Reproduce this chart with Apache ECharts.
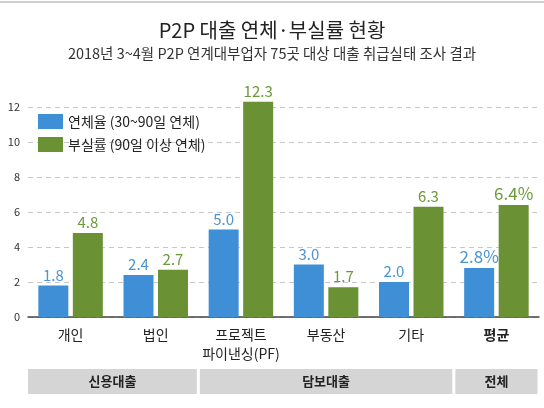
<!DOCTYPE html>
<html><head><meta charset="utf-8">
<script src="https://cdn.jsdelivr.net/npm/echarts@6/dist/echarts.min.js"></script>
<style>html,body{margin:0;padding:0;background:#fff}#c{width:544px;height:408px}</style>
</head><body><div id="c"></div>
<script>
const titleText = 'P2P 대출 연체·부실률 현황';
const subtitleText = '2018년 3~4월 P2P 연계대부업자 75곳 대상 대출 취급실태 조사 결과';
const categories = ['개인', '법인', '프로젝트\n파이낸싱(PF)', '부동산', '기타', '평균'];
const seriesNames = ['연체율 (30~90일 연체)', '부실률 (90일 이상 연체)'];
const delinquency = [1.8, 2.4, 5.0, 3.0, 2.0, 2.8];
const badLoan = [4.8, 2.7, 12.3, 1.7, 6.3, 6.4];
const yTicks = [0, 2, 4, 6, 8, 10, 12];
const groups = [
  { name: '신용대출', from: 0, to: 1 },
  { name: '담보대출', from: 2, to: 4 },
  { name: '전체', from: 5, to: 5 }
];
const totalIndex = 5;

const FONT = '"Noto Sans CJK KR", "Noto Sans", sans-serif';
const BLUE = '#3f8fd6', GREEN = '#6a9134';
const BLUE_T = '#4a94d2', GREEN_T = '#6b9a3a';

function makeData(vals, color) {
  return vals.map((v, i) => {
    const isTotal = i === totalIndex;
    return {
      value: v,
      label: {
        formatter: v.toFixed(1) + (isTotal ? '%' : ''),
        fontSize: isTotal ? 17 : 15,
        color: color
      }
    };
  });
}

const chart = echarts.init(document.getElementById('c'), null, { renderer: 'canvas' });
const option = {
  animation: false,
  textStyle: { fontFamily: FONT },
  title: [
    { text: titleText, left: 'center', top: 15,
      textStyle: { fontFamily: FONT, fontSize: 20, fontWeight: 'normal', color: '#222' } },
    { text: subtitleText, left: 'center', top: 41,
      textStyle: { fontFamily: FONT, fontSize: 14.5, fontWeight: 'normal', color: '#333' } }
  ],
  legend: {
    orient: 'vertical', left: 33, top: 109, itemWidth: 25, itemHeight: 15, itemGap: 8,
    icon: 'rect',
    textStyle: { fontFamily: FONT, fontSize: 14, color: '#222' },
    data: seriesNames
  },
  grid: { left: 28, right: 5, top: 107, bottom: 91, containLabel: false },
  xAxis: {
    type: 'category', data: categories,
    axisLine: { lineStyle: { color: '#444', width: 1.5 } },
    axisTick: { show: false },
    axisLabel: {
      interval: 0,
      fontFamily: FONT, fontSize: 14, color: '#222', margin: 8, lineHeight: 19,
      formatter: (v, i) => i === totalIndex ? '{b|' + v + '}' : v,
      rich: { b: { fontFamily: FONT, fontSize: 14, fontWeight: 'bold', color: '#222' } }
    }
  },
  yAxis: {
    type: 'value', min: yTicks[0], max: yTicks[yTicks.length - 1], interval: 2,
    axisLine: { show: false }, axisTick: { show: false },
    axisLabel: { fontFamily: FONT, fontSize: 11, color: '#333', margin: 8 },
    splitLine: { lineStyle: { color: '#c8c8c8', type: [5, 4], width: 1 } }
  },
  series: [
    { name: seriesNames[0], type: 'bar', data: makeData(delinquency, BLUE_T),
      barWidth: 30, barGap: '15%', clip: false,
      itemStyle: { color: BLUE },
      label: { show: true, position: 'top', distance: 3, fontFamily: FONT } },
    { name: seriesNames[1], type: 'bar', data: makeData(badLoan, GREEN_T),
      barWidth: 30, barGap: '15%', clip: false,
      itemStyle: { color: GREEN },
      label: { show: true, position: 'top', distance: 3, fontFamily: FONT } }
  ]
};
chart.setOption(option);

// group bands below the axis, positioned from category boundaries
const c0 = chart.convertToPixel({ xAxisIndex: 0 }, 0);
const c1 = chart.convertToPixel({ xAxisIndex: 0 }, 1);
const step = c1 - c0;
const bandTop = 369, bandH = 25;
const elements = [
  { type: 'line', shape: { x1: 0, y1: 2, x2: 544, y2: 2 }, style: { stroke: '#d0d0d0', lineWidth: 2 } }
];
groups.forEach(g => {
  const x1 = chart.convertToPixel({ xAxisIndex: 0 }, g.from) - step / 2 + (g.from === 0 ? 0 : 1.5);
  const x2 = chart.convertToPixel({ xAxisIndex: 0 }, g.to) + step / 2 - 1.5;
  elements.push({
    type: 'rect', shape: { x: x1, y: bandTop, width: x2 - x1, height: bandH },
    style: { fill: '#d5d5d5' }
  });
  elements.push({
    type: 'text', x: (x1 + x2) / 2, y: bandTop + bandH / 2,
    style: { text: g.name, fontFamily: FONT, fontSize: 13, fontWeight: 'bold', fill: '#222',
             align: 'center', verticalAlign: 'middle' }
  });
});
chart.setOption({ graphic: elements });
</script></body></html>
